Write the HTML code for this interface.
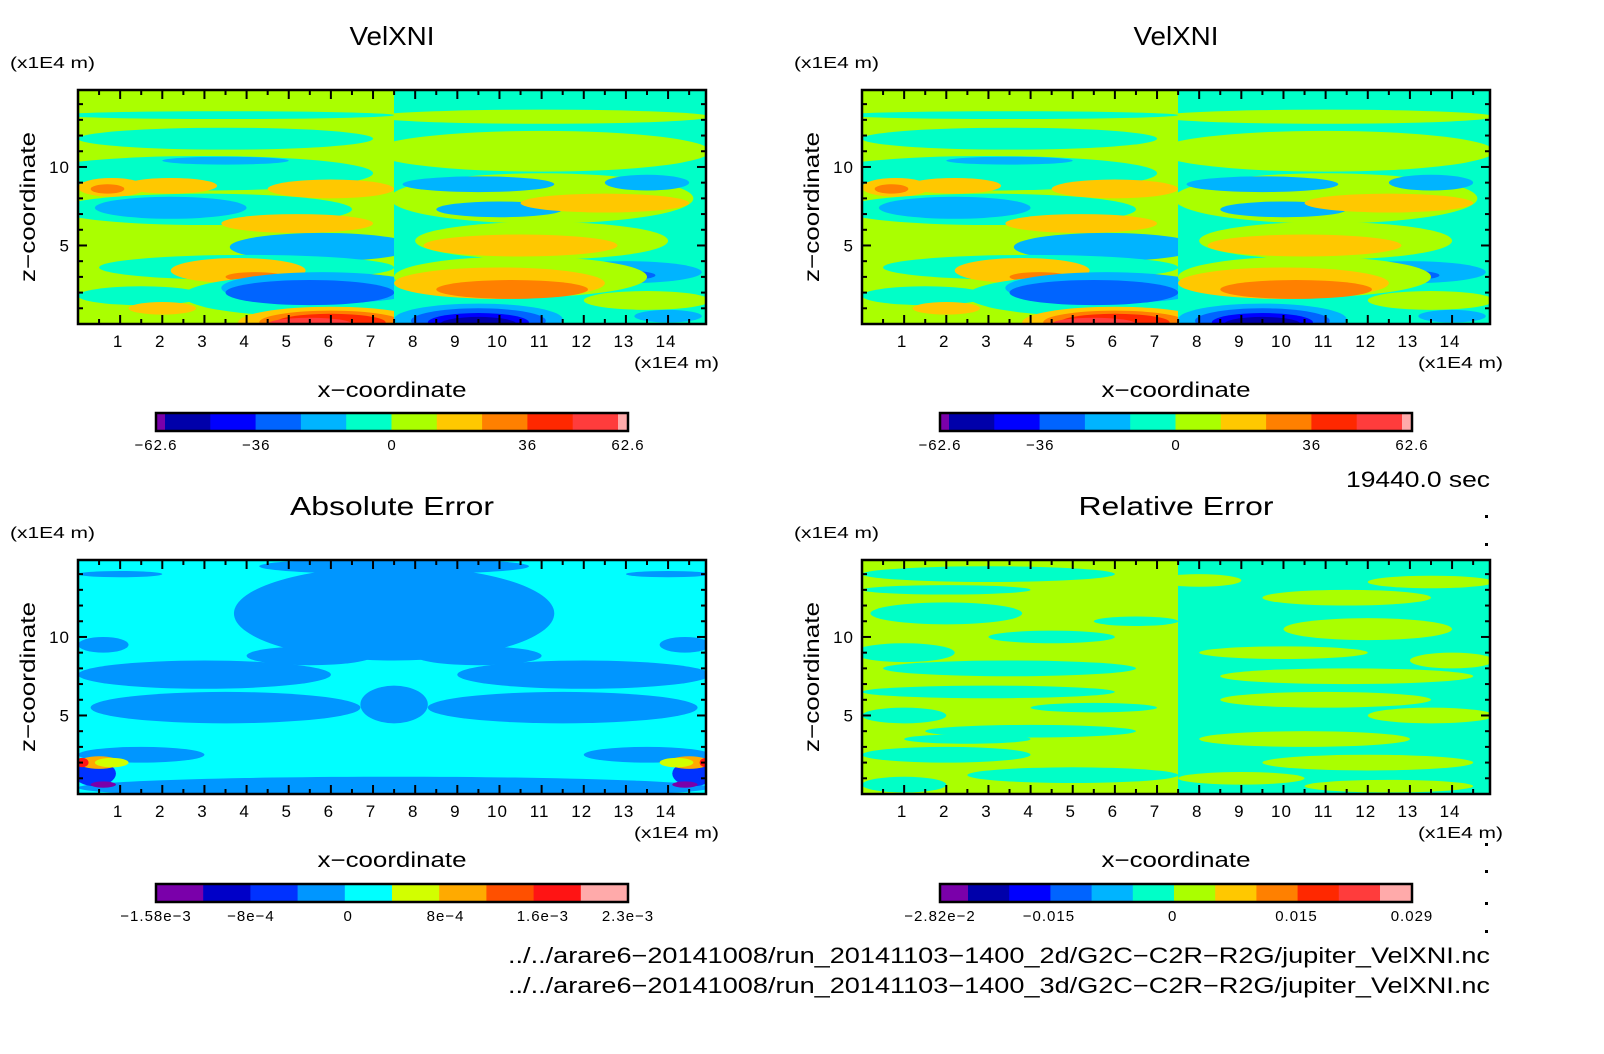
<!DOCTYPE html>
<html><head><meta charset="utf-8"><style>
html,body{margin:0;padding:0;background:#fff;}
svg{display:block;font-family:"Liberation Sans",sans-serif;}
</style></head><body>
<svg id="chart" width="1604" height="1054" viewBox="0 0 1604 1054">
<defs>
<clipPath id="clipL"><rect x="0" y="0" width="316" height="234"/></clipPath>
<clipPath id="clipR"><rect x="316" y="0" width="312" height="234"/></clipPath>
</defs>
</svg>
<script>
// ---- data ----
const xTicks = [1,2,3,4,5,6,7,8,9,10,11,12,13,14];
const zTicks = [5,10];
const velColors = ['#7a00aa','#0000aa','#0000ff','#0064ff','#00b4ff','#00ffc8','#aaff00','#ffc800','#ff8000','#ff2800','#ff3c3c','#ffaaaa'];
const absColors = ['#7a00aa','#0000c8','#0032ff','#0096ff','#00ffff','#d2ff00','#ffaa00','#ff5000','#ff1414','#ffaaaa'];
const relColors = ['#7a00aa','#0000aa','#0000ff','#0064ff','#00b4ff','#00ffc8','#aaff00','#ffc800','#ff8000','#ff2800','#ff3c3c','#ffaaaa'];
const velBarLabels = ['−62.6','−36','0','36','62.6'];
const velBarValues = [-62.6,-36,0,36,62.6];
const absBarLabels = ['−1.58e−3','−8e−4','0','8e−4','1.6e−3','2.3e−3'];
const absBarValues = [-1.58e-3,-8e-4,0,8e-4,1.6e-3,2.3e-3];
const relBarLabels = ['−2.82e−2','−0.015','0','0.015','0.029'];
const relBarValues = [-2.82e-2,-0.015,0,0.015,0.029];
// blobs: [x, z, rx, rz, colorIndex, half(0 left,1 right)]
const velBlobs = [
 [3.5,13.3,4,0.25,5,0],[3.5,11.8,3.5,0.7,5,0],[3,9.6,4,1.1,5,0],[3.5,10.4,1.5,0.25,4,0],
 [2.2,8.8,1.1,0.5,7,0],[6,8.6,1.5,0.6,7,0],[0.8,8.7,0.8,0.6,7,0],[0.7,8.6,0.4,0.3,8,0],
 [3,7.3,3.5,1,5,0],[2.2,7.4,1.8,0.7,4,0],[5.2,6.4,1.8,0.6,7,0],[5.8,4.9,2.2,0.9,4,0],
 [4,3.6,3.5,0.8,5,0],[3.8,3.4,1.6,0.8,7,0],[4.2,3.0,0.7,0.3,8,0],[1.5,1.8,1.5,0.6,5,0],
 [5.5,1.8,3,1.3,5,0],[5.8,2.3,2.4,1,4,0],[5.5,2,2,0.8,3,0],
 [6,0.1,2.2,1,7,0],[6,0.1,1.7,0.75,8,0],[6,0.1,1.3,0.55,9,0],[5.5,0,1,0.4,10,0],[2,1,0.8,0.4,7,0],
 [11,13.2,4,0.45,6,1],[11,11,4,1.3,6,1],[11,8,3.6,1.6,6,1],[9.5,8.9,1.8,0.5,4,1],[13.5,9,1,0.5,4,1],
 [10,7.3,1.5,0.5,4,1],[12.5,7.7,2,0.6,7,1],[11,5.3,3,1.2,6,1],[10.5,5,2.3,0.7,7,1],
 [13,3.3,1.8,0.7,4,1],[13,3.1,0.7,0.3,3,1],[10.5,3,3,1.3,6,1],[10,2.6,2.5,1,7,1],[10.3,2.2,1.8,0.6,8,1],
 [13.5,1.5,1.5,0.6,6,1],[9.5,0.3,2,1,4,1],[9.5,0.2,1.6,0.8,3,1],[9.5,0.1,1.2,0.6,2,1],[9.5,0,0.9,0.45,1,1],[14,0.5,0.8,0.4,4,1]
];
const absBlobs = [
 [7.5,11.5,3.8,3,3,0],[7.5,11.5,3.8,3,3,1],[7.5,14.5,3.2,0.5,3,0],[7.5,14.5,3.2,0.5,3,1],
 [3,7.6,3,0.9,3,0],[12,7.6,3,0.9,3,1],[5.5,8.8,1.5,0.6,3,0],[9.5,8.8,1.5,0.6,3,1],
 [3.5,5.5,3.2,1,3,0],[11.5,5.5,3.2,1,3,1],[7.5,5.7,0.8,1.2,3,0],[7.5,5.7,0.8,1.2,3,1],
 [1.5,2.5,1.5,0.5,3,0],[13.5,2.5,1.5,0.5,3,1],[7.5,0.4,7.5,0.7,3,0],[7.5,0.4,7.5,0.7,3,1],
 [1,14,1,0.2,3,0],[14,14,1,0.2,3,1],[0.6,9.5,0.6,0.5,3,0],[14.4,9.5,0.6,0.5,3,1],
 [0.4,1.3,0.5,0.8,2,0],[14.6,1.3,0.5,0.8,2,1],[0.5,2,0.5,0.4,6,0],[14.5,2,0.5,0.4,6,1],
 [0.8,2,0.4,0.3,5,0],[14.2,2,0.4,0.3,5,1],[0.1,2,0.15,0.3,8,0],[14.9,2,0.15,0.3,8,1],[0.6,0.6,0.3,0.2,0,0],[14.4,0.6,0.3,0.2,0,1]
];
const relBlobs = [
 [2,13,2,0.3,5,0],[2,11.5,1.8,0.7,5,0],[1,9,1.2,0.6,5,0],[3.5,8,3,0.5,5,0],[3,6.5,3,0.4,5,0],
 [1,5,1,0.5,5,0],[4,4,2.5,0.4,5,0],[2,2.5,2,0.5,5,0],[5,1.2,2.5,0.5,5,0],[6.5,11,1,0.3,5,0],
 [3,14,3,0.5,5,0],[4.5,10,1.5,0.4,5,0],[2.5,3.5,1.5,0.3,5,0],[5.5,5.5,1.5,0.3,5,0],[1,0.6,1,0.5,5,0],
 [11.5,12.5,2,0.5,6,1],[12,10.5,2,0.7,6,1],[10,9,2,0.4,6,1],[11.5,7.5,3,0.5,6,1],[11,6,2.5,0.5,6,1],
 [13.5,5,1.5,0.5,6,1],[10.5,3.5,2.5,0.5,6,1],[12,2,2.5,0.5,6,1],[9,1,1.5,0.4,6,1],[14,8.5,1,0.5,6,1],[8,13.6,1,0.4,6,1],
 [13.5,13.5,1.5,0.4,6,1],[12.5,0.5,2,0.4,6,1]
];
// ---- layout helpers ----
const NS='http://www.w3.org/2000/svg';
const svg=document.getElementById('chart');
const PW=628, PH=234, XMAX=14.9, ZMAX=14.9;
function xs(v){return v/XMAX*PW;}
function zs(v){return PH - v/ZMAX*PH;}
function mk(tag,attrs,parent){const e=document.createElementNS(NS,tag);for(const k in attrs)e.setAttribute(k,attrs[k]);(parent||svg).appendChild(e);return e;}
function txt(x,y,s,size,anchor,parent,len){const a={x:x,y:y,'font-size':size,'text-anchor':anchor||'middle',fill:'#000'};
 if(len){a.textLength=len;a.lengthAdjust='spacingAndGlyphs';} else {a['letter-spacing']=1;}
 const t=mk('text',a,parent);t.textContent=s;return t;}

function panel(ox,oy,name,title,titleLen,bgL,bgR,blobs,colors){
 const g=mk('g',{transform:`translate(${ox},${oy})`});
 
 
 const gl=mk('g',{'clip-path':'url(#clipL)'},g);
 const gr=mk('g',{'clip-path':'url(#clipR)'},g);
 mk('rect',{x:0,y:0,width:PW,height:PH,fill:bgL},gl);
 mk('rect',{x:0,y:0,width:PW,height:PH,fill:bgR},gr);
 blobs.forEach(b=>{
  const e=mk('ellipse',{cx:xs(b[0]),cy:zs(b[1]),rx:xs(b[2]),ry:PH-zs(b[3]),fill:colors[b[4]]},b[5]?gr:gl);
  
  
 });
 mk('rect',{x:0,y:0,width:PW,height:PH,fill:'none',stroke:'#000','stroke-width':2.5},g);
 for(let i=1;i<=29;i++){const v=i*0.5;if(v>XMAX)break;const L=(i%2==0)?9:5;
  mk('line',{x1:xs(v),x2:xs(v),y1:0,y2:L,stroke:'#000','stroke-width':2},g);
  mk('line',{x1:xs(v),x2:xs(v),y1:PH,y2:PH-L,stroke:'#000','stroke-width':2},g);}
 for(let v=1;v<=14;v++){const L=(v%5==0)?9:5;
  mk('line',{x1:0,x2:L,y1:zs(v),y2:zs(v),stroke:'#000','stroke-width':2},g);
  mk('line',{x1:PW,x2:PW-L,y1:zs(v),y2:zs(v),stroke:'#000','stroke-width':2},g);}
 xTicks.forEach(v=>{const t=txt(xs(v)-2,PH+23,String(v),17,'middle',g);});
 zTicks.forEach(v=>{const t=txt(-8,zs(v)+6,String(v),17,'end',g);});
 let t=txt(314,-45,title,26,'middle',g,titleLen);
 t=txt(-68,-22,'(x1E4 m)',16,'start',g,85);
 t=txt(556,PH+44,'(x1E4 m)',16,'start',g,85);
 t=txt(314,PH+73,'x−coordinate',21,'middle',g,149);
 t=txt(0,0,'z−coordinate',21,'middle',g,150);t.setAttribute('transform',`translate(-43,${PH/2}) rotate(-90)`);
 
}
function colorbar(x0,y0,name,colors,ends,values,labels){
 const g=mk('g',{transform:`translate(${x0},${y0})`});
 
 const W=472,H=18,vmin=values[0],vmax=values[values.length-1];
 const bx=v=>(v-vmin)/(vmax-vmin)*W;
 const n=colors.length; const e0=ends[0], e1=ends[1]; const inner=W-e0-e1, mid=n-(e0?1:0)-(e1?1:0);
 let x=0;
 colors.forEach((c,i)=>{let w;if(i==0&&e0)w=e0;else if(i==n-1&&e1)w=e1;else w=inner/mid;
  const r=mk('rect',{x:x,y:0,width:w+0.5,height:H,fill:c},g);x+=w;});
 mk('rect',{x:0,y:0,width:W,height:H,fill:'none',stroke:'#000','stroke-width':2.5},g);
 labels.forEach((s,i)=>{const t=txt(bx(values[i]),H+19,s,15,'middle',g);});
}
panel(78,90,'velxni-2d-panel','VelXNI',85,'#aaff00','#00ffc8',velBlobs,velColors);
panel(862,90,'velxni-3d-panel','VelXNI',85,'#aaff00','#00ffc8',velBlobs,velColors);
panel(78,560,'absolute-error-panel','Absolute Error',204,'#00ffff','#00ffff',absBlobs,absColors);
panel(862,560,'relative-error-panel','Relative Error',195,'#aaff00','#00ffc8',relBlobs,relColors);
colorbar(156,413,'velxni-2d-colorbar',velColors,[9,10],velBarValues,velBarLabels);
colorbar(940,413,'velxni-3d-colorbar',velColors,[9,10],velBarValues,velBarLabels);
colorbar(156,884,'absolute-error-colorbar',absColors,[0,0],absBarValues,absBarLabels);
colorbar(940,884,'relative-error-colorbar',relColors,[28,32],relBarValues,relBarLabels);
let t=txt(1490,487,'19440.0 sec',22,'end',null,144);
t=txt(1490,963,'../../arare6−20141008/run_20141103−1400_2d/G2C−C2R−R2G/jupiter_VelXNI.nc',22,'end',null,982);
t=txt(1490,993,'../../arare6−20141008/run_20141103−1400_3d/G2C−C2R−R2G/jupiter_VelXNI.nc',22,'end',null,982);
[515,543,843,870,902,930].forEach(y=>{const d=mk('rect',{x:1485,y:y,width:3,height:3,fill:'#000'});});
</script>
</body></html>
